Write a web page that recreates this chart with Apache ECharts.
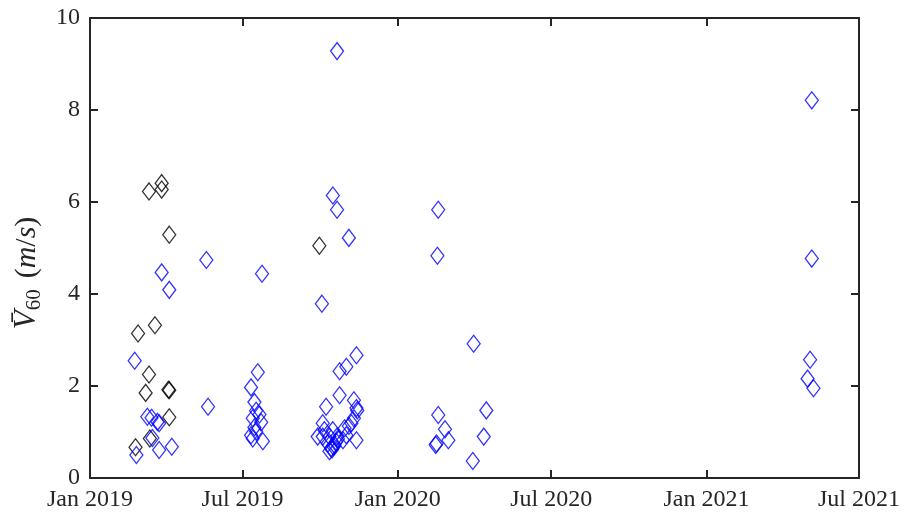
<!DOCTYPE html>
<html>
<head>
<meta charset="utf-8">
<script src="https://cdn.jsdelivr.net/npm/echarts@6/dist/echarts.min.js"></script>
<style>
  html, body { margin: 0; padding: 0; background: #fff; }
  #chart { width: 904px; height: 523px; }
</style>
</head>
<body>
<div id="chart"></div>
<script>
// Measurements flagged as one group (black diamonds)
const blackDates = [
  '2019-03-12', '2019-03-27', '2019-03-27', '2019-04-05', '2019-03-19',
  '2019-02-27', '2019-03-12', '2019-03-08', '2019-04-04', '2019-04-05',
  '2019-04-05', '2019-03-13', '2019-02-24', '2019-09-30'
];
const blackValues = [
  6.23, 6.41, 6.27, 5.29, 3.32,
  3.14, 2.25, 1.85, 1.92, 1.91,
  1.32, 0.86, 0.67, 5.05
];

// All other measurements (blue diamonds)
const blueDates = [
  // spring 2019
  '2019-02-23', '2019-03-27', '2019-04-05', '2019-05-19', '2019-05-21',
  '2019-03-10', '2019-03-15', '2019-03-22', '2019-03-24', '2019-03-16',
  '2019-03-24', '2019-04-08', '2019-02-25',
  // summer 2019
  '2019-07-24', '2019-07-19', '2019-07-11', '2019-07-15', '2019-07-17',
  '2019-07-21', '2019-07-13', '2019-07-23', '2019-07-15', '2019-07-11',
  '2019-07-17', '2019-07-25', '2019-07-13',
  // autumn 2019
  '2019-10-21', '2019-10-16', '2019-10-21', '2019-11-04', '2019-10-03',
  '2019-11-13', '2019-10-24', '2019-11-01', '2019-10-24', '2019-10-08',
  '2019-11-10', '2019-11-13', '2019-11-14', '2019-11-10', '2019-11-07',
  '2019-11-04', '2019-10-04', '2019-10-06', '2019-10-16', '2019-10-30',
  '2019-11-01', '2019-11-13', '2019-10-21', '2019-10-28', '2019-10-12',
  '2019-10-10', '2019-10-14', '2019-10-18', '2019-10-12', '2019-10-20',
  '2019-10-04', '2019-09-28', '2019-10-15', '2019-10-17', '2019-10-22',
  // early 2020
  '2020-02-18', '2020-02-17', '2020-03-31', '2020-02-18', '2020-04-15',
  '2020-02-26', '2020-03-01', '2020-02-16', '2020-02-15', '2020-04-12',
  '2020-03-30',
  // May 2021
  '2021-05-06', '2021-05-06', '2021-05-04', '2021-05-01', '2021-05-08'
];
const blueValues = [
  2.55, 4.47, 4.09, 4.74, 1.55,
  1.33, 1.31, 1.22, 1.19, 0.87,
  0.61, 0.68, 0.50,
  4.44, 2.30, 1.97, 1.65, 1.46,
  1.38, 1.30, 1.21, 1.10, 0.93,
  1.01, 0.80, 0.86,
  9.28, 6.14, 5.83, 5.22, 3.79,
  2.67, 2.32, 2.42, 1.80, 1.55,
  1.69, 1.52, 1.47, 1.30, 1.19,
  1.13, 1.19, 1.04, 1.04, 1.08,
  0.93, 0.82, 0.90, 0.82, 0.90,
  0.75, 0.65, 0.72, 0.58, 0.79,
  0.90, 0.90, 0.62, 0.68, 0.85,
  5.83, 4.83, 2.92, 1.37, 1.47,
  1.06, 0.82, 0.75, 0.72, 0.90,
  0.37,
  8.21, 4.77, 2.57, 2.16, 1.95
];

// Axis ticks
const xTickDates = ['2019-01-01', '2019-07-01', '2020-01-01', '2020-07-01', '2021-01-01', '2021-07-01'];
const xTickLabels = ['Jan 2019', 'Jul 2019', 'Jan 2020', 'Jul 2020', 'Jan 2021', 'Jul 2021'];
const yTicks = [0, 2, 4, 6, 8, 10];

// Dates are placed on a linear millisecond scale
function toTime(s) {
  const p = s.split('-').map(Number);
  return Date.UTC(p[0], p[1] - 1, p[2]);
}

const xTickTimes = xTickDates.map(toTime);
const xMin = xTickTimes[0];
const xMax = xTickTimes[xTickTimes.length - 1];

function pairs(dates, vals) {
  return dates.map((d, i) => [toTime(d), vals[i]]);
}

const FONT = '"Liberation Serif", "Times New Roman", serif';
const AXIS_COLOR = '#262626';

function xLabel(v) {
  let best = 0;
  for (let i = 1; i < xTickTimes.length; i++) {
    if (Math.abs(xTickTimes[i] - v) < Math.abs(xTickTimes[best] - v)) best = i;
  }
  return xTickLabels[best];
}

const baseX = {
  type: 'value',
  min: xMin,
  max: xMax,
  scale: true,
  splitLine: { show: false },
  axisLine: { show: true, onZero: false, lineStyle: { color: AXIS_COLOR, width: 2 } },
  axisTick: { show: true, inside: true, length: 8, customValues: xTickTimes,
              lineStyle: { color: AXIS_COLOR, width: 2 } },
  axisPointer: { show: false }
};

const baseY = {
  type: 'value',
  min: yTicks[0],
  max: yTicks[yTicks.length - 1],
  interval: 2,
  splitLine: { show: false },
  axisLine: { show: true, onZero: false, lineStyle: { color: AXIS_COLOR, width: 2 } },
  axisTick: { show: true, inside: true, length: 8, lineStyle: { color: AXIS_COLOR, width: 2 } }
};

const chart = echarts.init(document.getElementById('chart'), null, { renderer: 'canvas' });

chart.setOption({
  animation: false,
  backgroundColor: '#ffffff',
  grid: { left: 90, right: 45, top: 18, bottom: 45, containLabel: false },
  xAxis: [
    Object.assign({}, baseX, {
      position: 'bottom',
      axisLabel: {
        show: true, customValues: xTickTimes, formatter: xLabel,
        color: AXIS_COLOR, fontFamily: FONT, fontSize: 24, margin: 10,
        hideOverlap: false, showMinLabel: true, showMaxLabel: true
      }
    }),
    Object.assign({}, baseX, { position: 'top', axisLabel: { show: false } })
  ],
  yAxis: [
    Object.assign({}, baseY, {
      position: 'left',
      axisLabel: {
        show: true, color: AXIS_COLOR, fontFamily: FONT, fontSize: 24, margin: 10
      },
      name: '{v|V\u0304}{sub|60}{sp|  }{p|(}{i|m}{p|/}{i|s}{p|)}',
      nameLocation: 'middle',
      nameRotate: 90,
      nameGap: 42,
      nameTextStyle: {
        color: AXIS_COLOR,
        fontFamily: FONT,
        fontSize: 30,
        padding: [0, 50, 0, 0],
        rich: {
          v:   { fontFamily: FONT, fontSize: 31, fontStyle: 'italic', color: AXIS_COLOR, lineHeight: 36, verticalAlign: 'middle' },
          sub: { fontFamily: FONT, fontSize: 21, color: AXIS_COLOR, lineHeight: 36, verticalAlign: 'bottom' },
          sp:  { fontFamily: FONT, fontSize: 22, lineHeight: 36, verticalAlign: 'middle' },
          p:   { fontFamily: FONT, fontSize: 30, color: AXIS_COLOR, lineHeight: 36, verticalAlign: 'middle' },
          i:   { fontFamily: FONT, fontSize: 30, fontStyle: 'italic', color: AXIS_COLOR, lineHeight: 36, verticalAlign: 'middle' }
        }
      }
    }),
    Object.assign({}, baseY, { position: 'right', axisLabel: { show: false } })
  ],
  series: [
    {
      name: 'group A',
      type: 'scatter',
      xAxisIndex: 0,
      yAxisIndex: 0,
      symbol: 'diamond',
      symbolSize: [13, 17],
      itemStyle: { color: 'rgba(0,0,0,0)', borderColor: '#000000', borderWidth: 1.3 },
      emphasis: { disabled: true },
      data: pairs(blackDates, blackValues)
    },
    {
      name: 'group B',
      type: 'scatter',
      xAxisIndex: 0,
      yAxisIndex: 0,
      symbol: 'diamond',
      symbolSize: [13, 17],
      itemStyle: { color: 'rgba(0,0,0,0)', borderColor: '#0000ff', borderWidth: 1.3 },
      emphasis: { disabled: true },
      data: pairs(blueDates, blueValues)
    }
  ]
});
</script>
</body>
</html>
